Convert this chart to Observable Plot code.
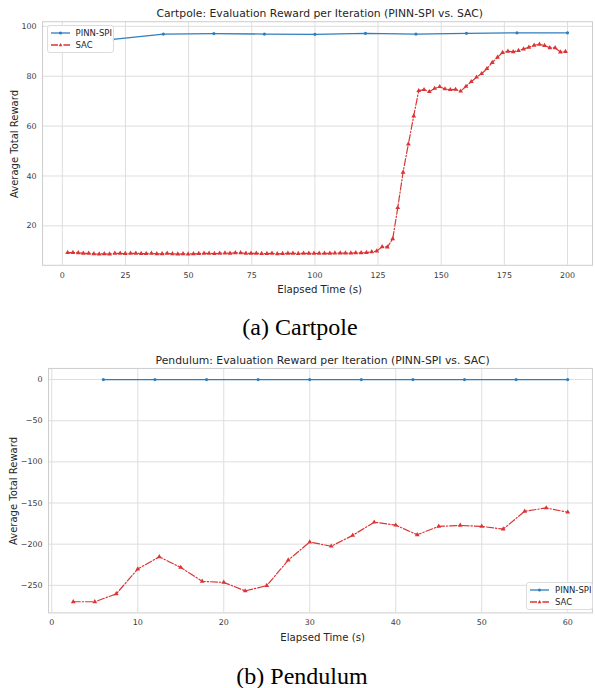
<!DOCTYPE html>
<html>
<head>
<meta charset="utf-8">
<script src="https://cdn.jsdelivr.net/npm/d3@7"></script>
<script src="https://cdn.jsdelivr.net/npm/@observablehq/plot@0.6"></script>
<style>
  html, body { margin: 0; padding: 0; background: #fff; }
  #page { position: relative; width: 595px; height: 688px; overflow: hidden; font-family: "DejaVu Sans", sans-serif; }
  .chart { position: absolute; left: 0; }
  .title { position: absolute; font-size: 10.8px; color: #262626; white-space: nowrap; transform: translate(-50%, -50%); }
  .xlabel { position: absolute; font-size: 10.2px; color: #262626; white-space: nowrap; transform: translate(-50%, -50%); }
  .ylabel { position: absolute; font-size: 10px; color: #262626; white-space: nowrap; transform: translate(-50%, -50%) rotate(-90deg); }
  .caption { position: absolute; font-family: "Liberation Serif", "Times New Roman", serif; font-size: 24px; color: #000; white-space: nowrap; transform: translate(-50%, -50%); }
  .legend { position: absolute; box-sizing: border-box; border: 1px solid #dcdcdc; border-radius: 3px; background: rgba(255,255,255,0.9); font-size: 8.5px; color: #262626; }
  .legend .row { position: absolute; left: 3px; height: 10px; display: flex; align-items: center; }
  .legend .row svg { margin-right: 6px; }
</style>
</head>
<body>
<div id="page"></div>
<script>
// ---------------- Data ----------------
const seriesNames = ["PINN-SPI", "SAC"];

// (a) Cartpole
const cartpolePinnTime = [20, 40, 60, 80, 100, 120, 140, 160, 180, 200];
const cartpolePinnReward = [94.8, 96.9, 97.1, 96.9, 96.8, 97.2, 96.9, 97.2, 97.4, 97.4];

const cartpoleSacTime = [
  2.1, 4.2, 6.3, 8.3, 10.4, 12.5, 14.6, 16.6, 18.7, 20.8,
  22.9, 24.9, 27.0, 29.1, 31.2, 33.2, 35.3, 37.4, 39.5, 41.5,
  43.6, 45.7, 47.8, 49.8, 51.9, 54.0, 56.1, 58.1, 60.2, 62.3,
  64.4, 66.4, 68.5, 70.6, 72.7, 74.7, 76.8, 78.9, 81.0, 83.0,
  85.1, 87.2, 89.3, 91.3, 93.4, 95.5, 97.6, 99.6, 101.7, 103.8,
  105.9, 107.9, 110.0, 112.1, 114.2, 116.2, 118.3, 120.4, 122.5, 124.5,
  126.6, 128.7, 130.8, 132.8, 134.9, 137.0, 139.1, 141.1, 143.2, 145.3,
  147.4, 149.4, 151.5, 153.6, 155.7, 157.7, 159.8, 161.9, 164.0, 166.0,
  168.1, 170.2, 172.3, 174.3, 176.4, 178.5, 180.6, 182.6, 184.7, 186.8,
  188.9, 190.9, 193.0, 195.1, 197.2, 199.2
];
const cartpoleSacReward = [
  9.3, 9.3, 9.2, 9.0, 9.0, 8.8, 8.7, 8.8, 8.7, 9.0,
  9.0, 8.9, 9.0, 9.0, 8.9, 8.9, 9.0, 8.8, 8.8, 9.0,
  8.8, 8.7, 8.8, 8.7, 8.8, 8.9, 9.0, 9.0, 8.9, 9.0,
  9.1, 9.0, 9.2, 9.2, 9.0, 9.0, 9.0, 8.9, 8.9, 9.0,
  8.8, 8.9, 9.0, 9.0, 8.9, 9.0, 9.0, 9.0, 9.0, 9.0,
  9.0, 9.1, 9.1, 9.1, 9.1, 9.2, 9.2, 9.3, 9.6, 9.9,
  11.6, 11.5, 14.8, 27.3, 41.5, 52.8, 64.0, 74.2, 74.6, 73.8,
  75.1, 75.8, 74.9, 74.6, 74.7, 74.0, 75.9, 77.8, 79.6, 81.0,
  83.0, 85.5, 87.6, 89.5, 90.0, 89.8, 90.3, 90.9, 91.6, 92.4,
  92.8, 92.3, 91.4, 91.4, 89.7, 89.9
];
const cartpoleXTicks = [0, 25, 50, 75, 100, 125, 150, 175, 200];
const cartpoleYTicks = [20, 40, 60, 80, 100];

// (b) Pendulum
const pendulumPinnTime = [6, 12, 18, 24, 30, 36, 42, 48, 54, 60];
const pendulumPinnReward = [0, 0, 0, 0, 0, 0, 0, 0, 0, 0];

const pendulumSacTime = [2.5, 5, 7.5, 10, 12.5, 15, 17.5, 20, 22.5, 25, 27.5, 30,
  32.5, 35, 37.5, 40, 42.5, 45, 47.5, 50, 52.5, 55, 57.5, 60];
const pendulumSacReward = [-270, -270, -260.4, -230.2, -215.4, -228.3, -245.2, -246.4,
  -256.8, -250.4, -219.4, -197.4, -202.5, -189.3, -173.3, -176.9, -188.6, -178.4,
  -177.2, -178.4, -181.7, -160, -156, -161.2];
const pendulumXTicks = [0, 10, 20, 30, 40, 50, 60];
const pendulumYTicks = [0, -50, -100, -150, -200, -250];

// ---------------- Helpers ----------------
const BLUE = "#2f7ebd";
const RED = "#dc3434";
const DASH = "7,2,1.4,2";
const page = document.getElementById("page");

function pairs(ts, vs) { return ts.map((t, i) => ({t, v: vs[i]})); }

function addDiv(cls, text, x, y) {
  const d = document.createElement("div");
  d.className = cls; d.textContent = text;
  d.style.left = x + "px"; d.style.top = y + "px";
  page.appendChild(d);
  return d;
}

function addLegend(left, top) {
  const lg = document.createElement("div");
  lg.className = "legend";
  lg.style.left = left + "px"; lg.style.top = top + "px";
  lg.style.width = "67px"; lg.style.height = "28px";
  const rows = [
    {name: seriesNames[0], color: BLUE, dash: null, sym: "circle"},
    {name: seriesNames[1], color: RED, dash: DASH, sym: "triangle"}
  ];
  rows.forEach((r, i) => {
    const row = document.createElement("div");
    row.className = "row";
    row.style.top = (i === 0 ? 2 : 14) + "px";
    const ns = "http://www.w3.org/2000/svg";
    const svg = document.createElementNS(ns, "svg");
    svg.setAttribute("width", "19"); svg.setAttribute("height", "8");
    const ln = document.createElementNS(ns, "line");
    ln.setAttribute("x1", 0); ln.setAttribute("x2", 19); ln.setAttribute("y1", 4); ln.setAttribute("y2", 4);
    ln.setAttribute("stroke", r.color); ln.setAttribute("stroke-width", 1.3);
    if (r.dash) ln.setAttribute("stroke-dasharray", r.dash);
    svg.appendChild(ln);
    if (r.sym === "circle") {
      const c = document.createElementNS(ns, "circle");
      c.setAttribute("cx", 9.5); c.setAttribute("cy", 4); c.setAttribute("r", 1.6); c.setAttribute("fill", r.color);
      svg.appendChild(c);
    } else {
      const p = document.createElementNS(ns, "path");
      p.setAttribute("d", "M9.5,2 L11.3,5.2 L7.7,5.2 Z"); p.setAttribute("fill", r.color);
      svg.appendChild(p);
    }
    row.appendChild(svg);
    const s = document.createElement("span"); s.textContent = r.name;
    row.appendChild(s);
    lg.appendChild(row);
  });
  page.appendChild(lg);
}

function makeChart(opts) {
  const pinn = pairs(opts.pinnT, opts.pinnV);
  const sac = pairs(opts.sacT, opts.sacV);
  const chart = Plot.plot({
    width: 600,
    height: 300,
    marginLeft: opts.ml,
    marginRight: opts.mr,
    marginTop: opts.mt,
    marginBottom: opts.mb,
    x: {domain: opts.xDomain},
    y: {domain: opts.yDomain},
    style: {fontFamily: "DejaVu Sans", fontSize: "8px", color: "#3a3a3a", background: "transparent", overflow: "visible"},
    marks: [
      Plot.gridX({ticks: opts.xTicks, stroke: "#dedede", strokeOpacity: 1, strokeWidth: 1}),
      Plot.gridY({ticks: opts.yTicks, stroke: "#dedede", strokeOpacity: 1, strokeWidth: 1}),
      Plot.frame({stroke: "#cccccc", strokeWidth: 1}),
      Plot.axisX({ticks: opts.xTicks, tickSize: 0, tickPadding: 7, label: null}),
      Plot.axisY({ticks: opts.yTicks, tickSize: 0, tickPadding: 6, label: null}),
      Plot.line(pinn, {x: "t", y: "v", stroke: BLUE, strokeWidth: 1.3}),
      Plot.dot(pinn, {x: "t", y: "v", r: 1.6, fill: BLUE, stroke: null}),
      Plot.line(sac, {x: "t", y: "v", stroke: RED, strokeWidth: 1.2, strokeDasharray: DASH}),
      Plot.dot(sac, {x: "t", y: "v", symbol: "triangle", r: 1.8, fill: RED, stroke: null})
    ]
  });
  chart.classList.add("chart");
  chart.style.top = opts.top + "px";
  page.appendChild(chart);
}

// ---------------- Chart (a) ----------------
makeChart({
  top: 0, ml: 42.4, mr: 3, mt: 21.4, mb: 33,
  xDomain: [-7.83, 209.9], yDomain: [4.2, 101.85],
  xTicks: cartpoleXTicks, yTicks: cartpoleYTicks,
  pinnT: cartpolePinnTime, pinnV: cartpolePinnReward,
  sacT: cartpoleSacTime, sacV: cartpoleSacReward
});
addDiv("title", "Cartpole: Evaluation Reward per Iteration (PINN-SPI vs. SAC)", 319.7, 13);
addDiv("xlabel", "Elapsed Time (s)", 319.7, 288.5);
addDiv("ylabel", "Average Total Reward", 13.5, 144);
addLegend(46.5, 25);
addDiv("caption", "(a) Cartpole", 300, 327);

// ---------------- Chart (b) ----------------
makeChart({
  top: 350, ml: 48.45, mr: 3.1, mt: 18.1, mb: 35.4,
  xDomain: [-0.375, 62.875], yDomain: [-283.5, 13.5],
  xTicks: pendulumXTicks, yTicks: pendulumYTicks,
  pinnT: pendulumPinnTime, pinnV: pendulumPinnReward,
  sacT: pendulumSacTime, sacV: pendulumSacReward
});
addDiv("title", "Pendulum: Evaluation Reward per Iteration (PINN-SPI vs. SAC)", 322.7, 360);
addDiv("xlabel", "Elapsed Time (s)", 322.7, 637);
addDiv("ylabel", "Average Total Reward", 13, 491);
addLegend(526, 582.3);
addDiv("caption", "(b) Pendulum", 302, 676);
</script>
</body>
</html>
